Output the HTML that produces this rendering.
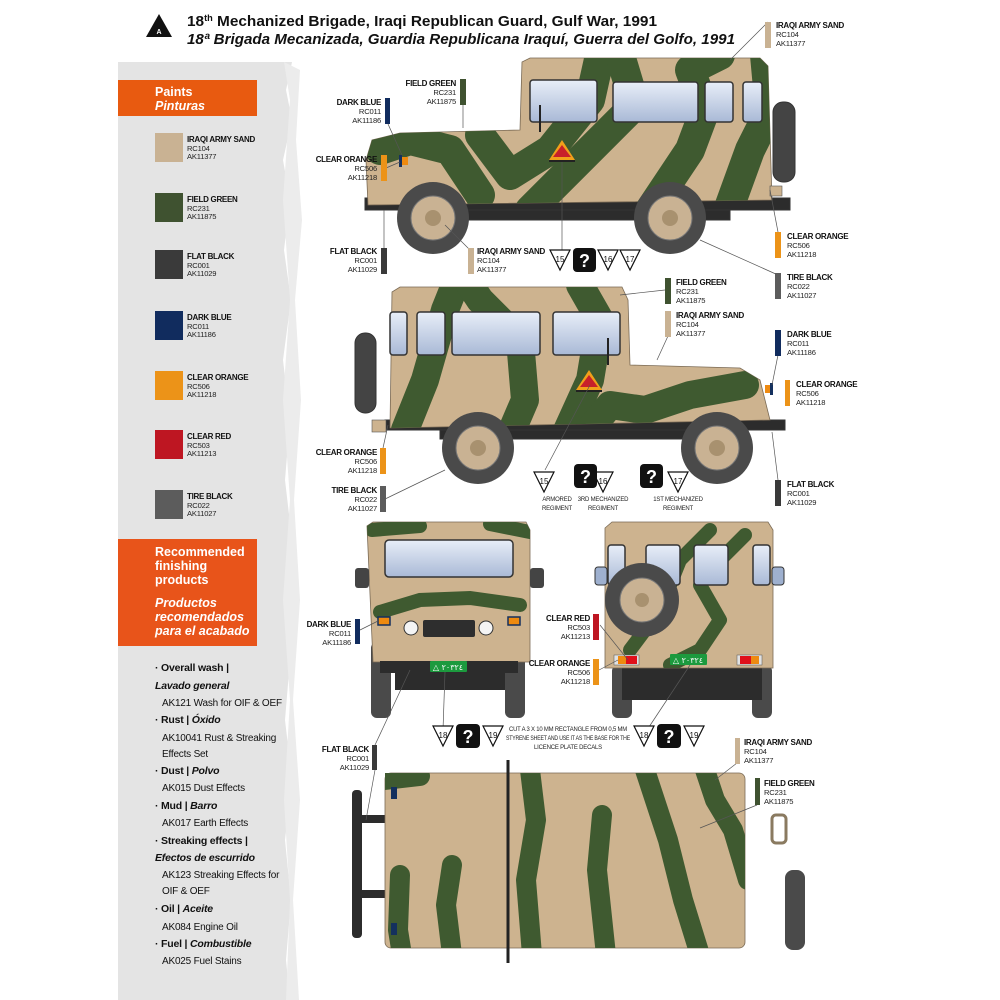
<!DOCTYPE html>
<html><head><meta charset="utf-8"><style>
html,body{margin:0;padding:0;background:#fff}
svg{display:block}
.n{font-family:"Liberation Sans",sans-serif;font-weight:bold;font-size:8px;fill:#111;letter-spacing:-0.3px}
.c{font-family:"Liberation Sans",sans-serif;font-size:7.6px;fill:#222;letter-spacing:-0.2px}
.l{font-family:"Liberation Sans",sans-serif;font-size:10px;fill:#111;letter-spacing:-0.2px}
.lb{font-family:"Liberation Sans",sans-serif;font-size:10.5px;fill:#111;font-weight:bold;letter-spacing:-0.2px}
.h{font-family:"Liberation Sans",sans-serif;font-weight:bold;font-size:12.5px;fill:#fff}
.d{font-family:"Liberation Sans",sans-serif;font-size:8px;fill:#111}
.s{font-family:"Liberation Sans",sans-serif;font-size:6px;fill:#222;letter-spacing:-0.2px}
</style></head><body>
<svg width="1000" height="1000" viewBox="0 0 1000 1000" xmlns="http://www.w3.org/2000/svg">
<defs>
<linearGradient id="gl" x1="0" y1="0" x2="0" y2="1"><stop offset="0" stop-color="#e8eef8"/><stop offset="1" stop-color="#a9b9d6"/></linearGradient>
<clipPath id="c1"><path d="M366,160 L372,140 L400,133 L520,130 L522,62 L530,58 L760,58 L768,66 L772,200 L368,205 Z"/></clipPath>
<clipPath id="c2"><path d="M392,292 L400,287 L622,287 L628,300 L630,365 L740,368 L760,380 L770,420 L390,428 Z"/></clipPath>
<clipPath id="c3"><path d="M385,773 L745,773 L745,948 L385,948 Z"/></clipPath>
<clipPath id="c4"><path d="M367,526 L373,522 L526,522 L530,530 L530,662 L373,662 Z"/></clipPath>
<clipPath id="c5"><path d="M605,528 L612,522 L768,522 L773,530 L773,668 L605,668 Z"/></clipPath>
</defs>

<!-- left panel -->
<path d="M118,62 L292,62 L286,90 L292,120 L283,160 L290,200 L284,250 L291,300 L283,360 L290,420 L285,480 L292,540 L284,600 L290,660 L285,720 L292,780 L285,840 L291,900 L286,960 L290,1000 L118,1000 Z" fill="#e4e4e4"/>
<path d="M284,62 L300,70 L296,140 L302,220 L295,300 L301,400 L294,500 L300,600 L293,700 L300,800 L293,900 L299,1000 L286,1000 L290,900 L284,800 L290,700 L283,600 L290,500 L283,400 L290,300 L283,200 L290,100 Z" fill="#ececec"/>
<rect x="118" y="80" width="139" height="36" fill="#e85a10"/>
<text x="155" y="96" class="h">Paints</text>
<text x="155" y="110" class="h" font-style="italic">Pinturas</text>

<g>
<rect x="155" y="133" width="28" height="29" fill="#c9b293"/>
<text x="187" y="142" class="n">IRAQI ARMY SAND</text><text x="187" y="151" class="c">RC104</text><text x="187" y="159" class="c">AK11377</text>
<rect x="155" y="193" width="28" height="29" fill="#3f5230"/>
<text x="187" y="202" class="n">FIELD GREEN</text><text x="187" y="211" class="c">RC231</text><text x="187" y="219" class="c">AK11875</text>
<rect x="155" y="250" width="28" height="29" fill="#3a3a3a"/>
<text x="187" y="259" class="n">FLAT BLACK</text><text x="187" y="268" class="c">RC001</text><text x="187" y="276" class="c">AK11029</text>
<rect x="155" y="311" width="28" height="29" fill="#112c5e"/>
<text x="187" y="320" class="n">DARK BLUE</text><text x="187" y="329" class="c">RC011</text><text x="187" y="337" class="c">AK11186</text>
<rect x="155" y="371" width="28" height="29" fill="#ec9318"/>
<text x="187" y="380" class="n">CLEAR ORANGE</text><text x="187" y="389" class="c">RC506</text><text x="187" y="397" class="c">AK11218</text>
<rect x="155" y="430" width="28" height="29" fill="#be1622"/>
<text x="187" y="439" class="n">CLEAR RED</text><text x="187" y="448" class="c">RC503</text><text x="187" y="456" class="c">AK11213</text>
<rect x="155" y="490" width="28" height="29" fill="#5c5c5c"/>
<text x="187" y="499" class="n">TIRE BLACK</text><text x="187" y="508" class="c">RC022</text><text x="187" y="516" class="c">AK11027</text>
</g>

<rect x="118" y="539" width="139" height="107" fill="#e8541a"/>
<text class="h"><tspan x="155" y="556">Recommended</tspan><tspan x="155" y="570">finishing</tspan><tspan x="155" y="584">products</tspan></text>
<text class="h" font-style="italic"><tspan x="155" y="607">Productos</tspan><tspan x="155" y="621">recomendados</tspan><tspan x="155" y="635">para el acabado</tspan></text>

<text class="lb" x="155" y="671">· Overall wash |</text>
<text class="lb" x="155" y="689" font-style="italic">Lavado general</text>
<text class="l" x="162" y="706">AK121 Wash for OIF &amp; OEF</text>
<text class="lb" x="155" y="723">· Rust | <tspan font-style="italic">Óxido</tspan></text>
<text class="l" x="162" y="741">AK10041 Rust &amp; Streaking</text>
<text class="l" x="162" y="757">Effects Set</text>
<text class="lb" x="155" y="774">· Dust | <tspan font-style="italic">Polvo</tspan></text>
<text class="l" x="162" y="791">AK015 Dust Effects</text>
<text class="lb" x="155" y="809">· Mud | <tspan font-style="italic">Barro</tspan></text>
<text class="l" x="162" y="826">AK017 Earth Effects</text>
<text class="lb" x="155" y="844">· Streaking effects |</text>
<text class="lb" x="155" y="861" font-style="italic">Efectos de escurrido</text>
<text class="l" x="162" y="878">AK123 Streaking Effects for</text>
<text class="l" x="162" y="894">OIF &amp; OEF</text>
<text class="lb" x="155" y="912">· Oil | <tspan font-style="italic">Aceite</tspan></text>
<text class="l" x="162" y="930">AK084 Engine Oil</text>
<text class="lb" x="155" y="947">· Fuel | <tspan font-style="italic">Combustible</tspan></text>
<text class="l" x="162" y="964">AK025 Fuel Stains</text>

<!-- header -->
<path d="M159,14 L172,37 L146,37 Z" fill="#111"/>
<text x="159" y="34" font-family="Liberation Sans,sans-serif" font-size="7" font-weight="bold" fill="#fff" text-anchor="middle">A</text>
<text x="187" y="26" font-family="Liberation Sans,sans-serif" font-weight="bold" font-size="15" fill="#111" textLength="470" lengthAdjust="spacingAndGlyphs">18<tspan font-size="9" dy="-5">th</tspan><tspan dy="5"> Mechanized Brigade, Iraqi Republican Guard, Gulf War, 1991</tspan></text>
<text x="187" y="44" font-family="Liberation Sans,sans-serif" font-weight="bold" font-style="italic" font-size="15" fill="#111" textLength="548" lengthAdjust="spacingAndGlyphs">18ª Brigada Mecanizada, Guardia Republicana Iraquí, Guerra del Golfo, 1991</text>

<!-- ===== Vehicle 1 ===== -->
<g stroke="#333" stroke-width="1">
<rect x="773" y="102" width="22" height="80" rx="10" fill="#444"/>
<rect x="365" y="198" width="425" height="12" fill="#2c2c2c"/>
<rect x="430" y="210" width="300" height="10" fill="#2c2c2c"/>
</g>
<path d="M366,160 L372,140 L400,133 L520,130 L522,62 L530,58 L760,58 L768,66 L772,200 L368,205 Z" fill="#cdb38f" stroke="#7a6a55" stroke-width="0.8"/>
<g clip-path="url(#c1)" fill="none" stroke="#3f5a30" stroke-width="30" stroke-linecap="round" stroke-linejoin="round">
<path d="M380,150 L410,140 L450,150 L480,195"/>
<path d="M480,135 L510,175 L550,150 L590,100 L600,55"/>
<path d="M530,210 L585,155 L635,105 L620,55"/>
<path d="M650,210 L690,150 L705,110 L690,70 L720,55"/>
<path d="M730,205 L750,150 L770,110 L765,55"/>
</g>
<g fill="url(#gl)" stroke="#333" stroke-width="1.5">
<rect x="530" y="80" width="67" height="42" rx="3"/>
<rect x="613" y="82" width="85" height="40" rx="3"/>
<rect x="705" y="82" width="28" height="40" rx="3"/>
<rect x="743" y="82" width="19" height="40" rx="3"/>
</g>
<line x1="540" y1="105" x2="540" y2="132" stroke="#222" stroke-width="2"/>
<path d="M562,140 L575,160 L549,160 Z" fill="#f2a01a"/><path d="M562,145 L571,157 L553,157 Z" fill="#c8202a"/><rect x="549" y="160" width="26" height="2" fill="#222"/>
<rect x="402" y="157" width="6" height="8" fill="#ee8a10"/><rect x="399" y="155" width="3" height="12" fill="#14305e"/>
<rect x="770" y="186" width="12" height="10" fill="#cdb38f" stroke="#555" stroke-width=".6"/>
<circle cx="433" cy="218" r="36" fill="#4a4a4a"/><circle cx="433" cy="218" r="22" fill="#c9b293" stroke="#777"/><circle cx="433" cy="218" r="8" fill="#a8916f"/>
<circle cx="670" cy="218" r="36" fill="#4a4a4a"/><circle cx="670" cy="218" r="22" fill="#c9b293" stroke="#777"/><circle cx="670" cy="218" r="8" fill="#a8916f"/>

<!-- ===== Vehicle 2 ===== -->
<g stroke="#333" stroke-width="1">
<rect x="355" y="333" width="21" height="80" rx="10" fill="#444"/>
<rect x="385" y="420" width="400" height="10" fill="#2c2c2c"/>
<rect x="440" y="430" width="300" height="9" fill="#2c2c2c"/>
</g>
<path d="M392,292 L400,287 L622,287 L628,300 L630,365 L740,368 L760,380 L770,420 L390,428 Z" fill="#cdb38f" stroke="#7a6a55" stroke-width="0.8"/>
<g clip-path="url(#c2)" fill="none" stroke="#3f5a30" stroke-width="28" stroke-linecap="round" stroke-linejoin="round">
<path d="M405,430 L425,380 L445,310 L455,285"/>
<path d="M470,285 L480,300 L520,340 L525,400 L510,435"/>
<path d="M580,285 L600,320 L590,380 L565,435"/>
<path d="M585,435 L610,405 L645,410 L690,395 L745,385"/>
</g>
<g fill="url(#gl)" stroke="#333" stroke-width="1.5">
<rect x="390" y="312" width="17" height="43" rx="3"/>
<rect x="417" y="312" width="28" height="43" rx="3"/>
<rect x="452" y="312" width="88" height="43" rx="3"/>
<rect x="553" y="312" width="67" height="43" rx="3"/>
</g>
<line x1="608" y1="338" x2="608" y2="365" stroke="#222" stroke-width="2"/>
<path d="M589,370 L602,390 L576,390 Z" fill="#f2a01a"/><path d="M589,375 L598,387 L580,387 Z" fill="#c8202a"/><rect x="576" y="390" width="26" height="2" fill="#222"/>
<rect x="765" y="385" width="6" height="8" fill="#ee8a10"/><rect x="770" y="383" width="3" height="12" fill="#14305e"/>
<rect x="372" y="420" width="14" height="12" fill="#cdb38f" stroke="#555" stroke-width=".6"/>
<circle cx="478" cy="448" r="36" fill="#4a4a4a"/><circle cx="478" cy="448" r="22" fill="#c9b293" stroke="#777"/><circle cx="478" cy="448" r="8" fill="#a8916f"/>
<circle cx="717" cy="448" r="36" fill="#4a4a4a"/><circle cx="717" cy="448" r="22" fill="#c9b293" stroke="#777"/><circle cx="717" cy="448" r="8" fill="#a8916f"/>

<!-- ===== Front view ===== -->
<rect x="371" y="642" width="20" height="76" rx="6" fill="#4a4a4a"/><rect x="505" y="642" width="20" height="76" rx="6" fill="#4a4a4a"/>
<rect x="395" y="665" width="110" height="25" fill="#2c2c2c"/>
<path d="M367,526 L373,522 L526,522 L530,530 L530,662 L373,662 Z" fill="#cdb38f" stroke="#7a6a55" stroke-width=".8"/>
<g clip-path="url(#c4)" fill="none" stroke="#3f5a30" stroke-width="14" stroke-linecap="round">
<path d="M372,530 L420,526"/><path d="M490,524 L530,532"/>
<path d="M380,612 L420,600 L470,598 L520,605"/>
</g>
<rect x="385" y="540" width="128" height="37" rx="4" fill="url(#gl)" stroke="#333" stroke-width="1.5"/>
<rect x="355" y="568" width="14" height="20" rx="3" fill="#444"/><rect x="530" y="568" width="14" height="20" rx="3" fill="#444"/>
<circle cx="411" cy="628" r="7" fill="#f4f4f4" stroke="#333"/><circle cx="486" cy="628" r="7" fill="#f4f4f4" stroke="#333"/>
<rect x="423" y="620" width="52" height="17" rx="2" fill="#2e2e2e"/>
<rect x="378" y="617" width="12" height="8" fill="#ee8a10" stroke="#14305e" stroke-width="1.5"/><rect x="508" y="617" width="12" height="8" fill="#ee8a10" stroke="#14305e" stroke-width="1.5"/>
<rect x="380" y="661" width="138" height="12" fill="#2c2c2c"/>
<rect x="430" y="661" width="37" height="11" rx="1" fill="#1c9a3e"/>
<text x="448" y="670" font-size="8" fill="#fff" text-anchor="middle" font-family="DejaVu Sans,sans-serif">△ ٢٠٣٢٤</text>

<!-- ===== Rear view ===== -->
<rect x="612" y="665" width="20" height="53" rx="6" fill="#4a4a4a"/><rect x="752" y="665" width="20" height="53" rx="6" fill="#4a4a4a"/>
<rect x="622" y="665" width="140" height="35" fill="#2c2c2c"/>
<path d="M605,528 L612,522 L768,522 L773,530 L773,668 L605,668 Z" fill="#cdb38f" stroke="#7a6a55" stroke-width=".8"/>
<g clip-path="url(#c5)" fill="none" stroke="#3f5a30" stroke-width="14" stroke-linecap="round" stroke-linejoin="round">
<path d="M710,530 L680,560 L660,610 L630,650"/>
<path d="M745,535 L720,560 L700,585 L720,620 L700,650 L670,665"/>
</g>
<g fill="url(#gl)" stroke="#333" stroke-width="1.5">
<rect x="608" y="545" width="17" height="40" rx="3"/><rect x="646" y="545" width="34" height="40" rx="3"/>
<rect x="694" y="545" width="34" height="40" rx="3"/><rect x="753" y="545" width="17" height="40" rx="3"/>
</g>
<rect x="595" y="567" width="12" height="18" rx="3" fill="#9eb0cf" stroke="#333"/><rect x="772" y="567" width="12" height="18" rx="3" fill="#9eb0cf" stroke="#333"/>
<circle cx="642" cy="600" r="37" fill="#4a4a4a"/><circle cx="642" cy="600" r="22" fill="#c9b293" stroke="#777"/><circle cx="642" cy="600" r="7" fill="#a8916f"/>
<rect x="614" y="655" width="25" height="10" fill="#e2e2e2" stroke="#555" stroke-width=".5"/><rect x="618" y="656" width="8" height="8" fill="#ee8a10"/><rect x="626" y="656" width="11" height="8" fill="#e0101a"/>
<rect x="737" y="655" width="25" height="10" fill="#e2e2e2" stroke="#555" stroke-width=".5"/><rect x="740" y="656" width="11" height="8" fill="#e0101a"/><rect x="751" y="656" width="8" height="8" fill="#ee8a10"/>
<rect x="670" y="654" width="37" height="11" rx="1" fill="#1c9a3e"/>
<text x="688" y="663" font-size="8" fill="#fff" text-anchor="middle" font-family="DejaVu Sans,sans-serif">△ ٢٠٣٢٤</text>

<!-- ===== Top view ===== -->
<rect x="352" y="790" width="10" height="148" rx="4" fill="#2c2c2c"/>
<rect x="360" y="815" width="26" height="8" fill="#2c2c2c"/><rect x="360" y="890" width="26" height="8" fill="#2c2c2c"/>
<rect x="785" y="870" width="20" height="80" rx="8" fill="#4a4a4a"/>
<rect x="772" y="815" width="14" height="28" rx="4" fill="none" stroke="#8a7a60" stroke-width="3"/>
<rect x="385" y="773" width="360" height="175" rx="6" fill="#cdb38f" stroke="#7a6a55" stroke-width=".8"/>
<g clip-path="url(#c3)" fill="none" stroke="#3f5a30" stroke-width="20" stroke-linecap="round" stroke-linejoin="round">
<path d="M400,875 L398,930 L402,955"/>
<path d="M452,865 L446,905 L452,955"/>
<path d="M530,770 L536,820 L526,880 L532,955"/>
<path d="M602,815 L597,870 L606,955"/>
<path d="M645,770 L668,840 L683,900 L700,955"/>
<path d="M705,770 L715,800 L733,830 L748,880"/>
<path d="M385,780 L420,776"/>
</g>
<line x1="508" y1="760" x2="508" y2="963" stroke="#222" stroke-width="3"/>
<rect x="391" y="787" width="6" height="12" fill="#14305e"/><rect x="391" y="923" width="6" height="12" fill="#14305e"/>

<!-- ===== Leader lines ===== -->
<g stroke="#555" stroke-width=".7" fill="none">
<line x1="463" y1="104" x2="463" y2="128"/><line x1="388" y1="124" x2="402" y2="155"/><line x1="386" y1="168" x2="400" y2="162"/>
<line x1="384" y1="248" x2="384" y2="210"/><line x1="470" y1="250" x2="445" y2="225"/><line x1="778" y1="232" x2="770" y2="190"/>
<line x1="778" y1="275" x2="700" y2="240"/><line x1="562" y1="250" x2="562" y2="162"/><line x1="768" y1="22" x2="730" y2="60"/>
<line x1="665" y1="290" x2="620" y2="295"/><line x1="668" y1="336" x2="657" y2="360"/><line x1="778" y1="355" x2="772" y2="385"/>
<line x1="383" y1="448" x2="388" y2="425"/><line x1="383" y1="500" x2="445" y2="470"/><line x1="778" y1="480" x2="772" y2="432"/>
<line x1="545" y1="470" x2="590" y2="385"/><line x1="360" y1="630" x2="378" y2="621"/>
<line x1="375" y1="770" x2="366" y2="820"/><line x1="375" y1="745" x2="410" y2="670"/><line x1="443" y1="730" x2="445" y2="672"/>
<line x1="600" y1="625" x2="628" y2="660"/><line x1="599" y1="670" x2="618" y2="660"/><line x1="647" y1="730" x2="690" y2="665"/>
<line x1="737" y1="763" x2="715" y2="780"/><line x1="757" y1="805" x2="700" y2="828"/>
</g>

<!-- ===== Callout labels ===== -->
<g>
<rect x="765" y="22" width="6" height="26" fill="#c9b293"/><text x="776" y="28" class="n">IRAQI ARMY SAND</text><text x="776" y="37" class="c">RC104</text><text x="776" y="46" class="c">AK11377</text>
<g text-anchor="end">
<rect x="460" y="79" width="6" height="26" fill="#3f5230"/><text x="456" y="86" class="n">FIELD GREEN</text><text x="456" y="95" class="c">RC231</text><text x="456" y="104" class="c">AK11875</text>
<rect x="385" y="98" width="5" height="26" fill="#112c5e"/><text x="381" y="105" class="n">DARK BLUE</text><text x="381" y="114" class="c">RC011</text><text x="381" y="123" class="c">AK11186</text>
<rect x="381" y="155" width="6" height="26" fill="#ec9318"/><text x="377" y="162" class="n">CLEAR ORANGE</text><text x="377" y="171" class="c">RC506</text><text x="377" y="180" class="c">AK11218</text>
<rect x="381" y="248" width="6" height="26" fill="#3a3a3a"/><text x="377" y="254" class="n">FLAT BLACK</text><text x="377" y="263" class="c">RC001</text><text x="377" y="272" class="c">AK11029</text>
<rect x="380" y="448" width="6" height="26" fill="#ec9318"/><text x="377" y="455" class="n">CLEAR ORANGE</text><text x="377" y="464" class="c">RC506</text><text x="377" y="473" class="c">AK11218</text>
<rect x="380" y="486" width="6" height="26" fill="#5c5c5c"/><text x="377" y="493" class="n">TIRE BLACK</text><text x="377" y="502" class="c">RC022</text><text x="377" y="511" class="c">AK11027</text>
<rect x="355" y="619" width="5" height="25" fill="#112c5e"/><text x="351" y="627" class="n">DARK BLUE</text><text x="351" y="636" class="c">RC011</text><text x="351" y="645" class="c">AK11186</text>
<rect x="372" y="745" width="5" height="25" fill="#3a3a3a"/><text x="369" y="752" class="n">FLAT BLACK</text><text x="369" y="761" class="c">RC001</text><text x="369" y="770" class="c">AK11029</text>
<rect x="593" y="614" width="6" height="26" fill="#be1622"/><text x="590" y="621" class="n">CLEAR RED</text><text x="590" y="630" class="c">RC503</text><text x="590" y="639" class="c">AK11213</text>
<rect x="593" y="659" width="6" height="26" fill="#ec9318"/><text x="590" y="666" class="n">CLEAR ORANGE</text><text x="590" y="675" class="c">RC506</text><text x="590" y="684" class="c">AK11218</text>
</g>
<rect x="468" y="248" width="6" height="26" fill="#c9b293"/><text x="477" y="254" class="n">IRAQI ARMY SAND</text><text x="477" y="263" class="c">RC104</text><text x="477" y="272" class="c">AK11377</text>
<rect x="775" y="232" width="6" height="26" fill="#ec9318"/><text x="787" y="239" class="n">CLEAR ORANGE</text><text x="787" y="248" class="c">RC506</text><text x="787" y="257" class="c">AK11218</text>
<rect x="775" y="273" width="6" height="26" fill="#5c5c5c"/><text x="787" y="280" class="n">TIRE BLACK</text><text x="787" y="289" class="c">RC022</text><text x="787" y="298" class="c">AK11027</text>
<rect x="665" y="278" width="6" height="26" fill="#3f5230"/><text x="676" y="285" class="n">FIELD GREEN</text><text x="676" y="294" class="c">RC231</text><text x="676" y="303" class="c">AK11875</text>
<rect x="665" y="311" width="6" height="26" fill="#c9b293"/><text x="676" y="318" class="n">IRAQI ARMY SAND</text><text x="676" y="327" class="c">RC104</text><text x="676" y="336" class="c">AK11377</text>
<rect x="775" y="330" width="6" height="26" fill="#112c5e"/><text x="787" y="337" class="n">DARK BLUE</text><text x="787" y="346" class="c">RC011</text><text x="787" y="355" class="c">AK11186</text>
<rect x="785" y="380" width="5" height="26" fill="#ec9318"/><text x="796" y="387" class="n">CLEAR ORANGE</text><text x="796" y="396" class="c">RC506</text><text x="796" y="405" class="c">AK11218</text>
<rect x="775" y="480" width="6" height="26" fill="#3a3a3a"/><text x="787" y="487" class="n">FLAT BLACK</text><text x="787" y="496" class="c">RC001</text><text x="787" y="505" class="c">AK11029</text>
<rect x="735" y="738" width="5" height="26" fill="#c9b293"/><text x="744" y="745" class="n">IRAQI ARMY SAND</text><text x="744" y="754" class="c">RC104</text><text x="744" y="763" class="c">AK11377</text>
<rect x="755" y="778" width="5" height="27" fill="#3f5230"/><text x="764" y="786" class="n">FIELD GREEN</text><text x="764" y="795" class="c">RC231</text><text x="764" y="804" class="c">AK11875</text>
</g>

<!-- ===== Decal markers ===== -->
<g fill="#fff" stroke="#111" stroke-width="1.2">
<path d="M550,250 L570,250 L560,270 Z"/><path d="M598,250 L618,250 L608,270 Z"/><path d="M620,250 L640,250 L630,270 Z"/>
<path d="M534,472 L554,472 L544,492 Z"/><path d="M593,472 L613,472 L603,492 Z"/><path d="M668,472 L688,472 L678,492 Z"/>
<path d="M433,726 L453,726 L443,746 Z"/><path d="M483,726 L503,726 L493,746 Z"/>
<path d="M634,726 L654,726 L644,746 Z"/><path d="M684,726 L704,726 L694,746 Z"/>
</g>
<g class="d" text-anchor="middle">
<text x="560" y="262">15</text><text x="608" y="262">16</text><text x="630" y="262">17</text>
<text x="544" y="484">15</text><text x="603" y="484">16</text><text x="678" y="484">17</text>
<text x="443" y="738">18</text><text x="493" y="738">19</text><text x="644" y="738">18</text><text x="694" y="738">19</text>
</g>
<g fill="#111">
<rect x="573" y="248" width="23" height="24" rx="4"/><rect x="574" y="464" width="23" height="24" rx="4"/><rect x="640" y="464" width="23" height="24" rx="4"/>
<rect x="456" y="724" width="24" height="24" rx="4"/><rect x="657" y="724" width="24" height="24" rx="4"/>
</g>
<g font-family="Liberation Sans,sans-serif" font-weight="bold" font-size="18" fill="#fff" text-anchor="middle">
<text x="584.5" y="267">?</text><text x="585.5" y="483">?</text><text x="651.5" y="483">?</text><text x="468" y="743">?</text><text x="669" y="743">?</text>
</g>
<g class="s" text-anchor="middle">
<text x="557" y="501">ARMORED</text><text x="557" y="510">REGIMENT</text>
<text x="603" y="501">3RD MECHANIZED</text><text x="603" y="510">REGIMENT</text>
<text x="678" y="501">1ST MECHANIZED</text><text x="678" y="510">REGIMENT</text>
<text x="568" y="731" textLength="118" lengthAdjust="spacingAndGlyphs">CUT A 3 X 10 MM RECTANGLE FROM 0,5 MM</text>
<text x="568" y="740" textLength="124" lengthAdjust="spacingAndGlyphs">STYRENE SHEET AND USE IT AS THE BASE FOR THE</text>
<text x="568" y="749">LICENCE PLATE DECALS</text>
</g>
</svg>
</body></html>
